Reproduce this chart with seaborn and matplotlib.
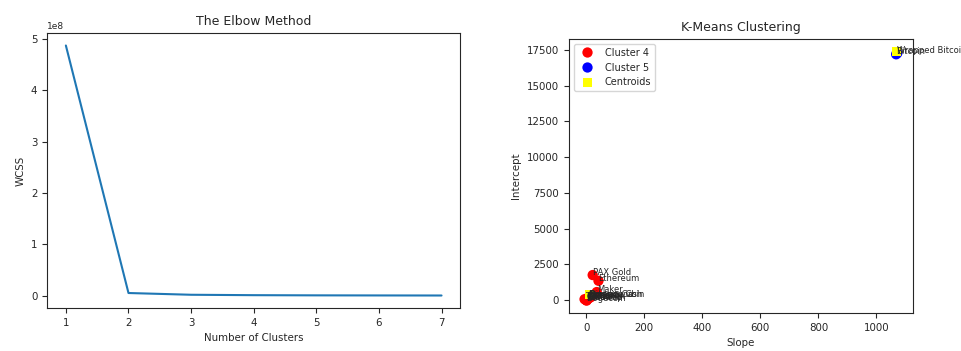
import matplotlib

matplotlib.use("Agg")
import matplotlib.pyplot as plt  # noqa: E402
import seaborn as sns  # noqa: E402

import pandas as pd

# elbow curve
n_clusters = [1, 2, 3, 4, 5, 6, 7]
wcss = [4.87e8, 5.0e6, 1.6e6, 8.0e5, 4.5e5, 2.8e5, 1.6e5]

# coin regression results
coins = [
    "Cardano", "Dogecoin", "XRP", "Tether", "Chainlink", "Uniswap", "Zcash",
    "Dash", "Monero", "Compound", "Litecoin", "Binance Coin", "Bitcoin Cash",
    "Maker", "Ethereum", "PAX Gold", "Bitcoin", "Wrapped Bitcoin",
]
slopes = [0, 1, 0, -6, 2, 3, 4, 5, 6, 8, 9, 10, 14, 36, 42, 22, 1068, 1072]
intercepts = [0, -40, 20, 60, 50, 30, 90, 110, 130, 200, 150, 230, 180,
              560, 1350, 1750, 17200, 17280]
clusters = ["Cluster 4"] * 16 + ["Cluster 5"] * 2

centroid_slope = [11, 1070]
centroid_intercept = [380, 17400]

df = pd.DataFrame({"coin": coins, "Slope": slopes, "Intercept": intercepts,
                   "cluster": clusters})
cent = pd.DataFrame({"Slope": centroid_slope, "Intercept": centroid_intercept})

sns.set_style("ticks")
plt.rcParams["font.family"] = ["DejaVu Sans"]

fig = plt.figure(figsize=(9.61, 3.51), dpi=100)
ax1 = fig.add_axes([0.049, 0.1225, 0.43, 0.7835])
ax2 = fig.add_axes([0.592, 0.108, 0.358, 0.781])

sns.lineplot(x=n_clusters, y=wcss, ax=ax1, color="#1f77b4", linewidth=1.5)
ax1.set_title("The Elbow Method", fontsize=9)
ax1.set_xlabel("Number of Clusters", fontsize=7.4)
ax1.set_ylabel("WCSS", fontsize=7.4)
ax1.tick_params(labelsize=7.4)
ax1.yaxis.get_offset_text().set_fontsize(6.5)

sns.scatterplot(data=df, x="Slope", y="Intercept", hue="cluster",
                palette={"Cluster 4": "red", "Cluster 5": "blue"},
                s=55, edgecolor="none", ax=ax2)
sns.scatterplot(data=cent, x="Slope", y="Intercept", color="yellow",
                marker="s", s=40, edgecolor="none", label="Centroids", ax=ax2)
for _, row in df.iterrows():
    ax2.annotate(row["coin"], (row["Slope"], row["Intercept"]), fontsize=6)

ax2.set_title("K-Means Clustering", fontsize=9)
ax2.set_xlabel("Slope", fontsize=7.4)
ax2.set_ylabel("Intercept", fontsize=7.4)
ax2.tick_params(labelsize=7.4)
ax2.set_yticks([0, 2500, 5000, 7500, 10000, 12500, 15000, 17500])
ax2.legend(loc="upper left", fontsize=7, markerscale=1.0)

fig.savefig("out.png", dpi=100)
